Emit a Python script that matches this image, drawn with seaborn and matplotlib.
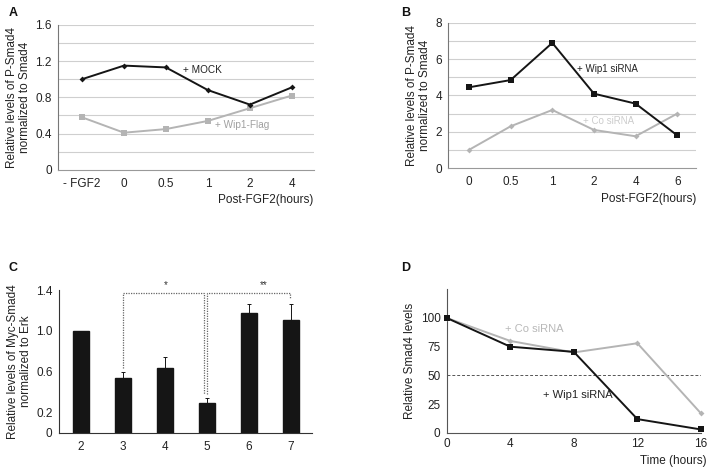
import numpy as np
import pandas as pd
import seaborn as sns
import matplotlib
matplotlib.use("Agg")
import matplotlib.pyplot as plt

# panel A
a_cats = ["- FGF2", "0", "0.5", "1", "2", "4"]
a_mock = [1.00, 1.15, 1.13, 0.88, 0.72, 0.91]
a_wip1 = [0.58, 0.41, 0.45, 0.54, 0.68, 0.82]

# panel B
b_cats = ["0", "0.5", "1", "2", "4", "6"]
b_wip1 = [4.45, 4.85, 6.90, 4.10, 3.55, 1.80]
b_co = [1.00, 2.30, 3.20, 2.10, 1.75, 3.00]

# panel C
c_cats = ["2", "3", "4", "5", "6", "7"]
c_vals = [1.00, 0.54, 0.64, 0.29, 1.18, 1.11]
c_err = [0.00, 0.06, 0.10, 0.05, 0.08, 0.15]

# panel D
d_time = [0, 4, 8, 12, 16]
d_co = [100, 80, 70, 78, 17]
d_wip1 = [100, 75, 70.5, 12, 3]

sns.set_theme(style="white")
plt.rcParams['font.family'] = ['Liberation Sans', 'DejaVu Sans']
plt.rcParams['font.size'] = 8.5

BLACK = "#151515"
GREY = "#b4b4b4"
GRID = "#cfcfcf"

fig = plt.figure(figsize=(7.08, 4.68), dpi=100)
axA = fig.add_axes([0.082, 0.637, 0.361, 0.310])
axB = fig.add_axes([0.633, 0.641, 0.350, 0.310])
axC = fig.add_axes([0.083, 0.075, 0.357, 0.305])
axD = fig.add_axes([0.631, 0.075, 0.359, 0.307])


def line_panel(ax, cats, ymax, ystep, ylabels):
    ax.set_xlim(-0.57, 5.52)
    ax.set_ylim(0, ymax)
    yt = np.arange(0, ymax + ystep / 2, ystep)
    ax.set_yticks(yt)
    ax.set_yticklabels(ylabels)
    for y in yt[1:]:
        ax.axhline(y, color=GRID, lw=0.8, zorder=0)
    ax.set_xticks(range(len(cats)))
    ax.set_xticklabels(cats)
    ax.set_xticks(np.arange(0.5, len(cats) - 0.5, 1), minor=True)
    ax.tick_params(axis="x", which="major", length=0, pad=6, labelsize=8.5, colors="#222")
    ax.tick_params(axis="x", which="minor", length=2.5, width=0.7, color="#666", direction="out")
    ax.tick_params(axis="y", length=2.5, width=0.7, color="#666", direction="out",
                   pad=2, labelsize=8.5, labelcolor="#222")
    for s in ["top", "right"]:
        ax.spines[s].set_visible(False)
    ax.spines["left"].set_color("#777")
    ax.spines["bottom"].set_color("#999")
    ax.spines["left"].set_linewidth(0.8)
    ax.spines["bottom"].set_linewidth(0.8)
    ax.set_xlabel("Post-FGF2(hours)", loc="right", fontsize=8.5, labelpad=3, color="#222")


# ---- A
xa = np.arange(len(a_cats))
sns.lineplot(x=xa, y=a_wip1, ax=axA, color=GREY, marker="s", markersize=4.5,
             markeredgewidth=0, lw=1.4, zorder=3)
sns.lineplot(x=xa, y=a_mock, ax=axA, color=BLACK, marker="D", markersize=3,
             markeredgewidth=0, lw=1.4, zorder=4)
line_panel(axA, a_cats, 1.6, 0.2, ["0", "", "0.4", "", "0.8", "", "1.2", "", "1.6"])
axA.set_ylabel("Relative levels of P-Smad4\nnormalized to Smad4", fontsize=8.5,
               labelpad=3, color="#222", linespacing=1.1)
axA.text(2.4, 1.10, "+ MOCK", fontsize=7.2, color="#222", va="center")
axA.text(3.17, 0.50, "+ Wip1-Flag", fontsize=7.2, color="#a0a0a0", va="center")

# ---- B
xb = np.arange(len(b_cats))
sns.lineplot(x=xb, y=b_co, ax=axB, color=GREY, marker="D", markersize=3,
             markeredgewidth=0, lw=1.4, zorder=3)
sns.lineplot(x=xb, y=b_wip1, ax=axB, color=BLACK, marker="s", markersize=5,
             markeredgewidth=0, lw=1.4, zorder=4)
line_panel(axB, b_cats, 8, 1, ["0", "", "2", "", "4", "", "6", "", "8"])
axB.set_xlim(-0.5, 5.45)
axB.set_ylabel("Relative levels of P-Smad4\nnormalized to Smad4", fontsize=8.5,
               labelpad=3, color="#222", linespacing=1.1)
axB.text(2.6, 5.45, "+ Wip1 siRNA", fontsize=7, color="#222", va="center")
axB.text(2.74, 2.6, "+ Co siRNA", fontsize=7, color="#cccccc", va="center")

# ---- C
cdf = pd.DataFrame({"cat": c_cats, "val": c_vals})
sns.barplot(data=cdf, x="cat", y="val", ax=axC, color=BLACK, width=0.38,
            saturation=1, edgecolor=BLACK)
xc = np.arange(len(c_cats))
axC.errorbar(xc, c_vals, yerr=[np.zeros(len(c_err)), c_err], fmt="none",
             ecolor=BLACK, elinewidth=0.7, capsize=1.6, capthick=0.7)
axC.set_xlim(-0.52, 5.5)
axC.set_ylim(0, 1.4)
axC.set_yticks(np.arange(0, 1.41, 0.2))
axC.set_yticklabels(["0", "0.2", "", "0.6", "", "1.0", "", "1.4"])
axC.tick_params(axis="y", length=2.5, width=0.7, color="#333", direction="out",
                pad=2, labelsize=8.5, labelcolor="#222")
axC.tick_params(axis="x", length=0, pad=6, labelsize=8.5, labelcolor="#222")
axC.set_xlabel("")
axC.set_ylabel("Relative levels of Myc-Smad4\nnormalized to Erk", fontsize=8.5,
               labelpad=3, color="#222", linespacing=1.1)
for s in ["top", "right"]:
    axC.spines[s].set_visible(False)
for s in ["left", "bottom"]:
    axC.spines[s].set_color("#333")
    axC.spines[s].set_linewidth(0.8)
dot = dict(color="#666", lw=0.9, ls=(0, (1, 1)), clip_on=False)
axC.plot([1, 1, 2.93, 2.93], [0.64, 1.37, 1.37, 0.38], **dot)
axC.plot([3.02, 3.02, 4.98, 4.98], [0.38, 1.37, 1.37, 1.31], **dot)
axC.text(2.02, 1.40, "*", fontsize=7, ha="center", va="bottom", color="#333")
axC.text(4.36, 1.40, "**", fontsize=7, ha="center", va="bottom", color="#333")

# ---- D
sns.lineplot(x=d_time, y=d_co, ax=axD, color=GREY, marker="D", markersize=3,
             markeredgewidth=0, lw=1.4, zorder=3, clip_on=False)
sns.lineplot(x=d_time, y=d_wip1, ax=axD, color=BLACK, marker="s", markersize=5,
             markeredgewidth=0, lw=1.4, zorder=4, clip_on=False)
axD.axhline(50, color="#555", lw=0.7, ls=(0, (3, 2)), zorder=1)
axD.set_xlim(0, 16)
axD.set_ylim(0, 125)
axD.set_xticks(d_time)
axD.set_yticks([0, 25, 50, 75, 100])
axD.tick_params(axis="x", length=2.5, width=0.7, color="#555", direction="in",
                pad=4, labelsize=8.5, labelcolor="#222")
axD.tick_params(axis="y", length=2.5, width=0.7, color="#555", direction="out",
                pad=2, labelsize=8.5, labelcolor="#222")
for s in ["top", "right"]:
    axD.spines[s].set_visible(False)
for s in ["left", "bottom"]:
    axD.spines[s].set_color("#555")
    axD.spines[s].set_linewidth(0.8)
axD.set_ylabel("Relative Smad4 levels", fontsize=8.5, labelpad=3, color="#222")
axD.set_xlabel("Time (hours)", fontsize=8.5, color="#222", labelpad=2)
axD.xaxis.set_label_coords(1.022, -0.155)
axD.xaxis.label.set_ha("right")
axD.text(3.69, 90.5, "+ Co siRNA", fontsize=8, color="#b8b8b8", va="center")
axD.text(6.06, 32.6, "+ Wip1 siRNA", fontsize=8, color="#222", va="center")

# panel letters
for lbl, x, y in [("A", 0.012, 0.985), ("B", 0.567, 0.985), ("C", 0.012, 0.44), ("D", 0.566, 0.44)]:
    fig.text(x, y, lbl, fontsize=9, fontweight="bold", va="top", color="#111")

fig.savefig("out.png", dpi=100)
